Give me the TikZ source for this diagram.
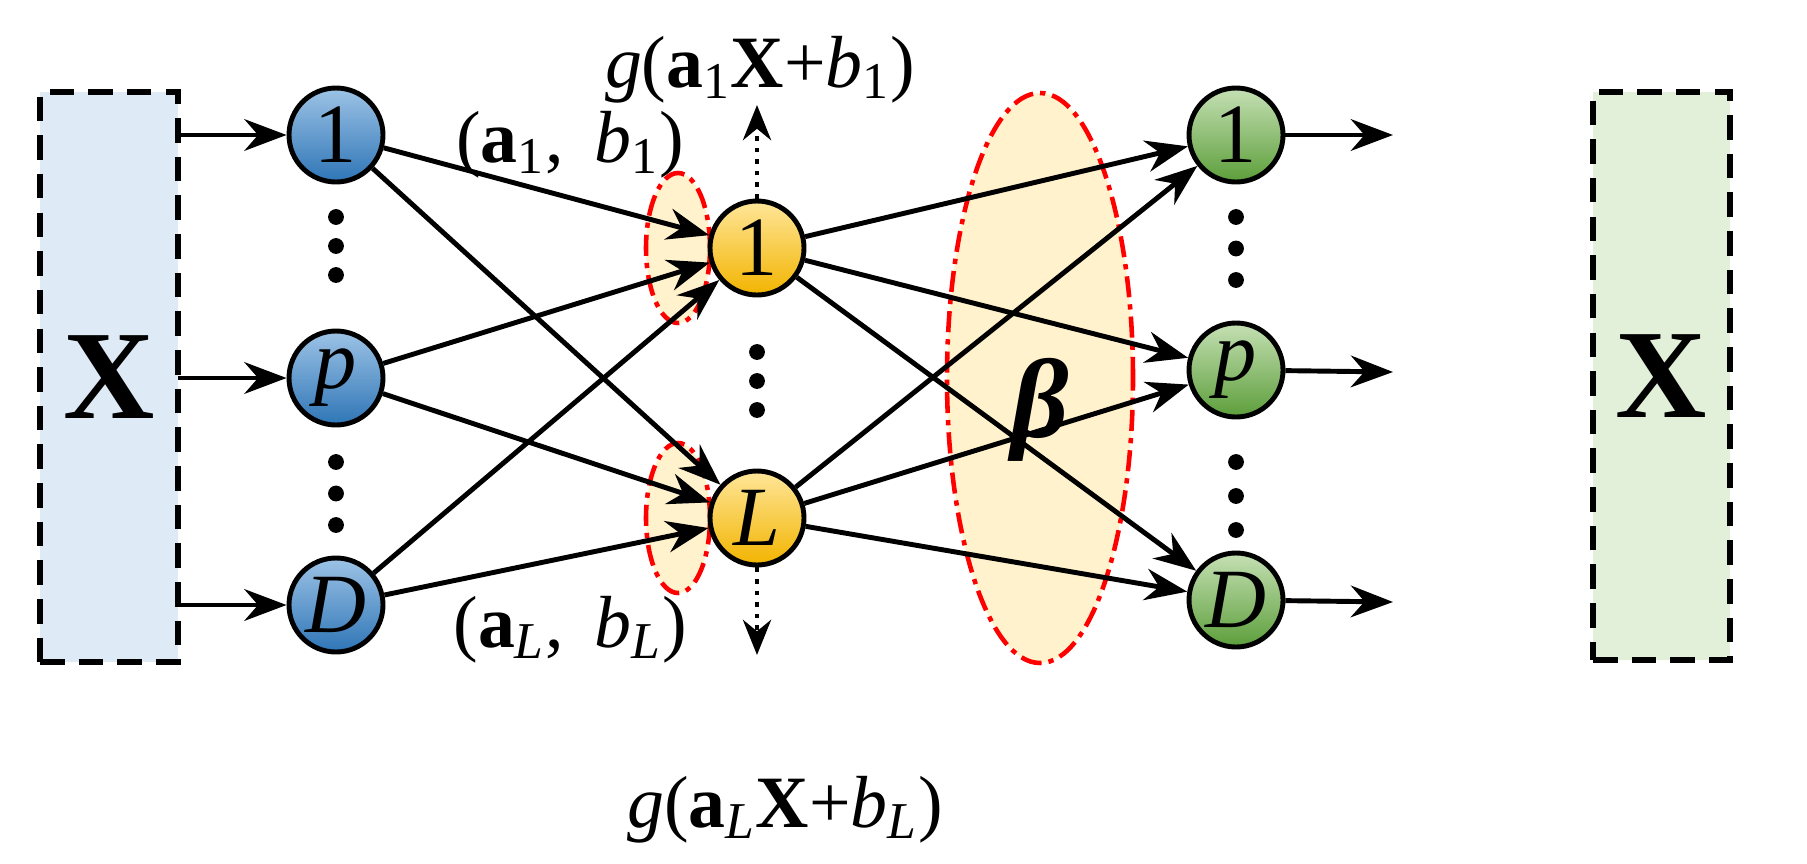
\documentclass[tikz,border=0pt]{standalone}
\usepackage{fontspec}
\setmainfont{Liberation Serif}
\usetikzlibrary{arrows.meta}
\definecolor{bluen}{HTML}{2E75B6}
\definecolor{bluel}{HTML}{9DC3E6}
\definecolor{yelln}{HTML}{F2B400}
\definecolor{yelll}{HTML}{FFE699}
\definecolor{greenn}{HTML}{5C9E3A}
\definecolor{greenl}{HTML}{C5E0B4}
\definecolor{boxb}{HTML}{DEEBF7}
\definecolor{boxg}{HTML}{E2F0D9}
\definecolor{ellf}{HTML}{FFF2CC}
\newcommand{\sbs}[1]{\textsubscript{\itshape #1}}
\newcommand{\sbn}[1]{\textsubscript{#1}}
\tikzset{
  neu/.style={circle,draw=black,line width=1.4pt,minimum size=0.94cm,inner sep=0pt,font=\fontsize{24}{26}\selectfont},
  bn/.style={neu,top color=bluel,bottom color=bluen},
  yn/.style={neu,top color=yelll,bottom color=yelln},
  gn/.style={neu,top color=greenl,bottom color=greenn},
  io/.style={draw=black,dash pattern=on 7pt off 4pt,line width=1.5pt},
  arr/.style={-{Stealth[length=12pt,width=9pt]},line width=1.4pt},
  darr/.style={-{Stealth[length=10pt,width=8pt]},line width=1.3pt,dotted},
  ell/.style={draw=red,fill=ellf,line width=1.3pt,dash pattern=on 6pt off 2pt on 1.5pt off 2pt},
  dot/.style={circle,fill=black,inner sep=0pt,minimum size=4.5pt},
  lab/.style={font=\fontsize{21}{24}\selectfont,inner sep=0pt}
}
\begin{document}
\begin{tikzpicture}
% boxes
\node[io,fill=boxb,minimum width=1.38cm,minimum height=5.7cm,inner sep=0pt,font=\fontsize{36}{38}\selectfont\bfseries] (bx1) at (1.09,-3.77) {X};
\node[io,fill=boxg,minimum width=1.37cm,minimum height=5.68cm,inner sep=0pt,font=\fontsize{36}{38}\selectfont\bfseries] (bx2) at (16.615,-3.76) {X};
% ellipses
\draw[ell] (6.78,-2.48) ellipse (0.32cm and 0.75cm);
\draw[ell] (6.78,-5.18) ellipse (0.32cm and 0.75cm);
\draw[ell] (10.4,-3.78) ellipse (0.93cm and 2.85cm);
\node[lab,font=\fontsize{32}{34}\selectfont\bfseries\itshape] (beta) at (10.4,-4.1) {β};
% nodes
\node[bn] (b1) at (3.36,-1.35) {1};
\node[bn] (bp) at (3.36,-3.78) {\itshape p};
\node[bn] (bD) at (3.36,-6.05) {\itshape D};
\node[yn] (y1) at (7.57,-2.48) {1};
\node[yn] (yL) at (7.57,-5.18) {\itshape L};
\node[gn] (g1) at (12.36,-1.35) {1};
\node[gn] (gp) at (12.36,-3.70) {\itshape p};
\node[gn] (gD) at (12.36,-6.00) {\itshape D};
% dots
\foreach \x/\a/\b in {3.36/2.17/2.75,3.36/4.62/5.25,7.57/3.52/4.1,12.36/2.17/2.8,12.36/4.62/5.3}{
  \node[dot] at (\x,-\a) {};
  \node[dot] at (\x,{-(\a+\b)/2}) {};
  \node[dot] at (\x,-\b) {};
}
% io arrows
\coordinate (l1) at (1.78,-1.35); \coordinate (lp) at (1.78,-3.78); \coordinate (lD) at (1.78,-6.05);
\draw[arr] (l1) -- (b1); \draw[arr] (lp) -- (bp); \draw[arr] (lD) -- (bD);
\coordinate (r1) at (13.93,-1.35); \coordinate (rp) at (13.93,-3.72); \coordinate (rD) at (13.93,-6.02);
\draw[arr] (g1) -- (r1); \draw[arr] (gp) -- (rp); \draw[arr] (gD) -- (rD);
% connections
\foreach \s in {b1,bp,bD}{ \foreach \t in {y1,yL}{ \draw[arr] (\s) -- (\t); } }
\foreach \s in {y1,yL}{ \foreach \t in {g1,gp,gD}{ \draw[arr] (\s) -- (\t); } }
% outputs
\coordinate (u1) at (7.57,-1.05); \coordinate (uL) at (7.57,-6.55);
\draw[darr] (y1) -- (u1); \draw[darr] (yL) -- (uL);
\node[lab] (t1) at (7.6,-0.7) {\textit{g}(\textbf{a}\sbn{1}\textbf{X}+\textit{b}\sbn{1})};
\node[lab] (tL) at (7.85,-8.1) {\textit{g}(\textbf{a}\sbs{L}\textbf{X}+\textit{b}\sbs{L})};
\node[lab] (p1) at (5.7,-1.45) {(\textbf{a}\sbn{1},\, \textit{b}\sbn{1})};
\node[lab] (pL) at (5.7,-6.3) {(\textbf{a}\sbs{L},\, \textit{b}\sbs{L})};
\pgfresetboundingbox
\useasboundingbox (0,0) rectangle (18.07,-8.63);
\end{tikzpicture}
\end{document}
